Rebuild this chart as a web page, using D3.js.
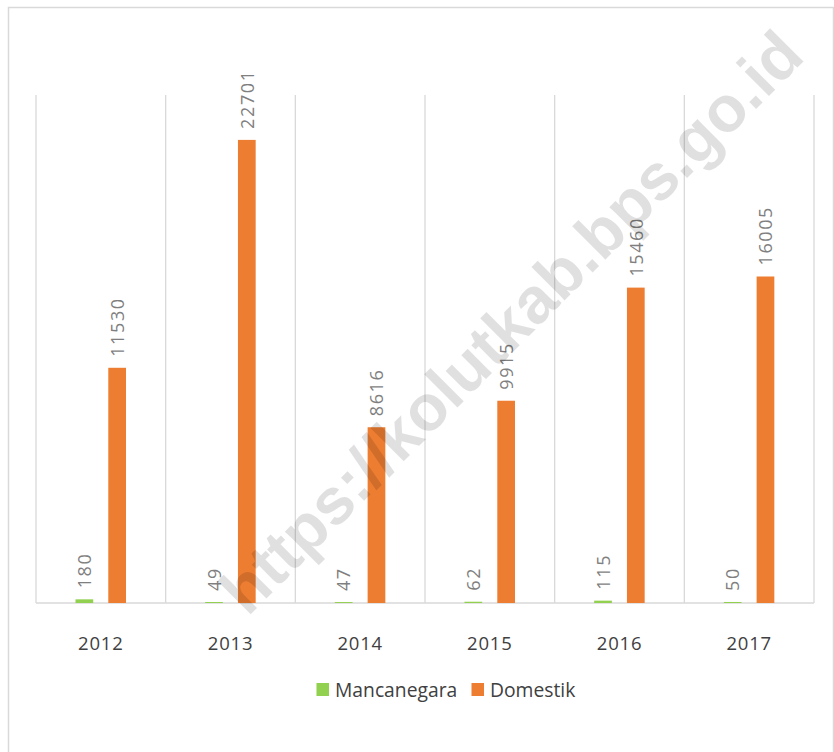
<!DOCTYPE html>
<html>
<head>
<meta charset="utf-8">
<script src="https://cdn.jsdelivr.net/npm/d3@7"></script>
<style>
  html, body { margin: 0; padding: 0; background: #fff; }
  svg { display: block; }
</style>
</head>
<body>
<script>
// Jumlah wisatawan per tahun
const years = ["2012", "2013", "2014", "2015", "2016", "2017"];
const seriesNames = ["Mancanegara", "Domestik"];
const mancanegara = [180, 49, 47, 62, 115, 50];
const domestik = [11530, 22701, 8616, 9915, 15460, 16005];
const seriesColors = ["#92d050", "#ed7d31"];
const yMax = 25000;

const W = 834, H = 752;
const svg = d3.select("body").append("svg").attr("width", W).attr("height", H);

// outer frame
svg.append("rect")
  .attr("x", 8.5).attr("y", 7.5).attr("width", 825).attr("height", 770)
  .attr("fill", "none").attr("stroke", "#d9d9d9").attr("stroke-width", 1.5);

const plot = { left: 36, right: 814, top: 95, bottom: 603 };

const x = d3.scaleBand().domain(years).range([plot.left, plot.right]).padding(0);
const xInner = d3.scaleBand().domain(seriesNames).range([39.5, 90]).paddingInner(0.46);
const y = d3.scaleLinear().domain([0, yMax]).range([plot.bottom, 93]);

// vertical separators between categories
const edges = years.map(d => x(d)).concat([plot.right]);
svg.append("g").selectAll("line").data(edges).join("line")
  .attr("x1", d => d).attr("x2", d => d)
  .attr("y1", plot.top).attr("y2", plot.bottom)
  .attr("stroke", "#d9d9d9").attr("stroke-width", 1.3);

// category axis
const xAxis = svg.append("g")
  .attr("transform", `translate(0,${plot.bottom})`)
  .call(d3.axisBottom(x).tickSize(0).tickPadding(0));
xAxis.select(".domain").attr("stroke", "#d9d9d9").attr("stroke-width", 1.6)
  .attr("d", `M${plot.left},0H${plot.right}`);
xAxis.selectAll("text")
  .attr("y", 47).attr("dy", 0)
  .attr("font-family", "'Open Sans', 'Noto Sans', sans-serif")
  .attr("font-size", 18.5).attr("letter-spacing", 0.8)
  .attr("fill", "#404040");

const rows = years.map((yr, i) => ({ year: yr, values: [mancanegara[i], domestik[i]] }));

const groups = svg.append("g").selectAll("g").data(rows).join("g")
  .attr("transform", d => `translate(${x(d.year)},0)`);

const cells = groups.selectAll("g").data(d => d.values.map((v, k) => ({ name: seriesNames[k], value: v, k })))
  .join("g");

cells.append("rect")
  .attr("x", d => xInner(d.name))
  .attr("width", xInner.bandwidth())
  .attr("y", d => y(d.value))
  .attr("height", d => plot.bottom - y(d.value))
  .attr("fill", d => seriesColors[d.k]);

// value labels, rotated
cells.append("text")
  .attr("transform", d => `translate(${xInner(d.name) + xInner.bandwidth() / 2 + 6.8},${y(d.value) - 11}) rotate(-90)`)
  .attr("text-anchor", "start")
  .attr("font-family", "'Open Sans', 'Noto Sans', sans-serif")
  .attr("font-size", 18).attr("letter-spacing", 1.6)
  .attr("fill", "#7f7f7f")
  .text(d => d.value);

// legend
const legendItems = [
  { name: seriesNames[0], color: seriesColors[0], x: 316.5 },
  { name: seriesNames[1], color: seriesColors[1], x: 471.5 }
];
const lg = svg.append("g").selectAll("g").data(legendItems).join("g")
  .attr("transform", d => `translate(${d.x},683)`);
lg.append("rect").attr("width", 12.5).attr("height", 13).attr("fill", d => d.color);
lg.append("text")
  .attr("x", 18.5).attr("y", 13.5)
  .attr("font-family", "'Open Sans', 'Noto Sans', sans-serif")
  .attr("font-size", 19.3)
  .attr("fill", "#404040")
  .text(d => d.name);

// watermark
svg.append("text")
  .attr("transform", "translate(527,338) rotate(-45)")
  .attr("text-anchor", "middle")
  .attr("font-family", "'Liberation Sans', Arial, sans-serif")
  .attr("font-weight", "bold")
  .attr("font-size", 65)
  .attr("fill", "#000").attr("fill-opacity", 0.12)
  .text("https://kolutkab.bps.go.id");
</script>
</body>
</html>
